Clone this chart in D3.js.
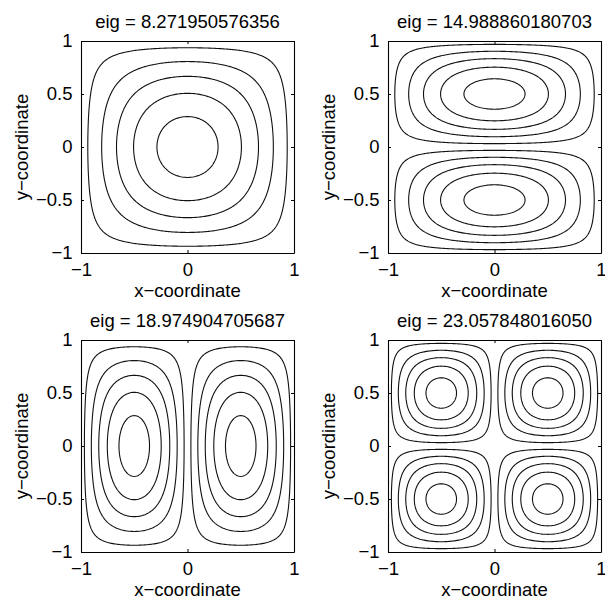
<!DOCTYPE html>
<html>
<head>
<meta charset="utf-8">
<script src="https://cdn.jsdelivr.net/npm/d3@7"></script>
<style>
  body { margin: 0; background: #fff; }
  text { font-family: "Liberation Sans", Arial, Helvetica, sans-serif; }
</style>
</head>
<body>
<div id="chart"></div>
<script>
// eigenvalue shown in each panel title (kept as strings to keep trailing zeros)
const eigValues = ['8.271950576356', '14.988860180703', '18.974904705687', '23.057848016050'];
// mode numbers in x and y for each panel
const modeX = [1, 1, 2, 2];
const modeY = [1, 2, 1, 2];
// contour levels (drawn for both signs of the mode)
const levels = [0.1, 0.3, 0.5, 0.7, 0.9];
const xTickValues = [-1, 0, 1];
const yTickValues = [-1, -0.5, 0, 0.5, 1];

const width = 605;
const height = 603;
const panelLefts = [81, 388];
const panelTops = [41, 340];
const w = 213;
const h = 212;
const fontSize = 18.5;
const n = 161; // grid resolution
const fmt = d3.format('');

const svg = d3.select('#chart').append('svg')
    .attr('width', width)
    .attr('height', height);

// 1-D mode shape on [-1, 1]
const phi = (k, t) => Math.sin(k * Math.PI * (t + 1) / 2);

eigValues.forEach((eig, i) => {
  const col = i % 2;
  const row = Math.floor(i / 2);

  const x = d3.scaleLinear().domain([-1, 1]).range([0, w]);
  const y = d3.scaleLinear().domain([-1, 1]).range([h, 0]);

  const g = svg.append('g')
      .attr('transform', `translate(${panelLefts[col]}, ${panelTops[row]})`);

  // sample |u| on the grid so both lobes get closed contours
  const values = new Float64Array(n * n);
  for (let r = 0; r < n; r += 1) {
    const yv = -1 + (2 * r) / (n - 1);
    for (let c = 0; c < n; c += 1) {
      const xv = -1 + (2 * c) / (n - 1);
      values[(r * n) + c] = Math.abs(phi(modeX[i], xv) * phi(modeY[i], yv));
    }
  }

  const contours = d3.contours()
      .size([n, n])
      .thresholds(levels)(values);

  const toAxes = d3.geoTransform({
    point(gx, gy) {
      this.stream.point(
        x(-1 + (2 * (gx - 0.5)) / (n - 1)),
        y(-1 + (2 * (gy - 0.5)) / (n - 1)));
    },
  });

  g.append('clipPath')
      .attr('id', `clip${i}`)
    .append('rect')
      .attr('width', w)
      .attr('height', h);

  g.append('g')
      .attr('clip-path', `url(#clip${i})`)
    .selectAll('path')
    .data(contours)
    .enter().append('path')
      .attr('d', d3.geoPath(toAxes))
      .attr('fill', 'none')
      .attr('stroke', '#111')
      .attr('stroke-width', 1.1);

  // MATLAB-style box with inward ticks on all sides
  const styleAxis = (sel) => {
    sel.attr('font-size', fontSize)
      .attr('font-family', null)
      .attr('color', '#000');
    sel.select('.domain').attr('stroke-width', 1.1);
  };

  g.append('g')
      .attr('transform', `translate(0, ${h})`)
      .call(d3.axisBottom(x).tickValues(xTickValues).tickFormat(fmt)
        .tickSize(-3).tickSizeOuter(0).tickPadding(10))
      .call(styleAxis);

  g.append('g')
      .call(d3.axisLeft(y).tickValues(yTickValues).tickFormat(fmt)
        .tickSize(-3).tickSizeOuter(0).tickPadding(8.5))
      .call(styleAxis);

  g.append('g')
      .call(d3.axisTop(x).tickValues(xTickValues).tickFormat('')
        .tickSize(-3).tickSizeOuter(0))
      .call(styleAxis);

  g.append('g')
      .attr('transform', `translate(${w}, 0)`)
      .call(d3.axisRight(y).tickValues(yTickValues).tickFormat('')
        .tickSize(-3).tickSizeOuter(0))
      .call(styleAxis);

  g.append('text')
      .attr('x', w / 2)
      .attr('y', -13.3)
      .attr('text-anchor', 'middle')
      .attr('font-size', fontSize)
      .text(`eig = ${eig}`);

  g.append('text')
      .attr('x', w / 2)
      .attr('y', h + 44)
      .attr('text-anchor', 'middle')
      .attr('font-size', fontSize)
      .text('x\u2212coordinate');

  g.append('text')
      .attr('transform', `translate(-53, ${h / 2}) rotate(-90)`)
      .attr('text-anchor', 'middle')
      .attr('font-size', fontSize)
      .text('y\u2212coordinate');
});
</script>
</body>
</html>
